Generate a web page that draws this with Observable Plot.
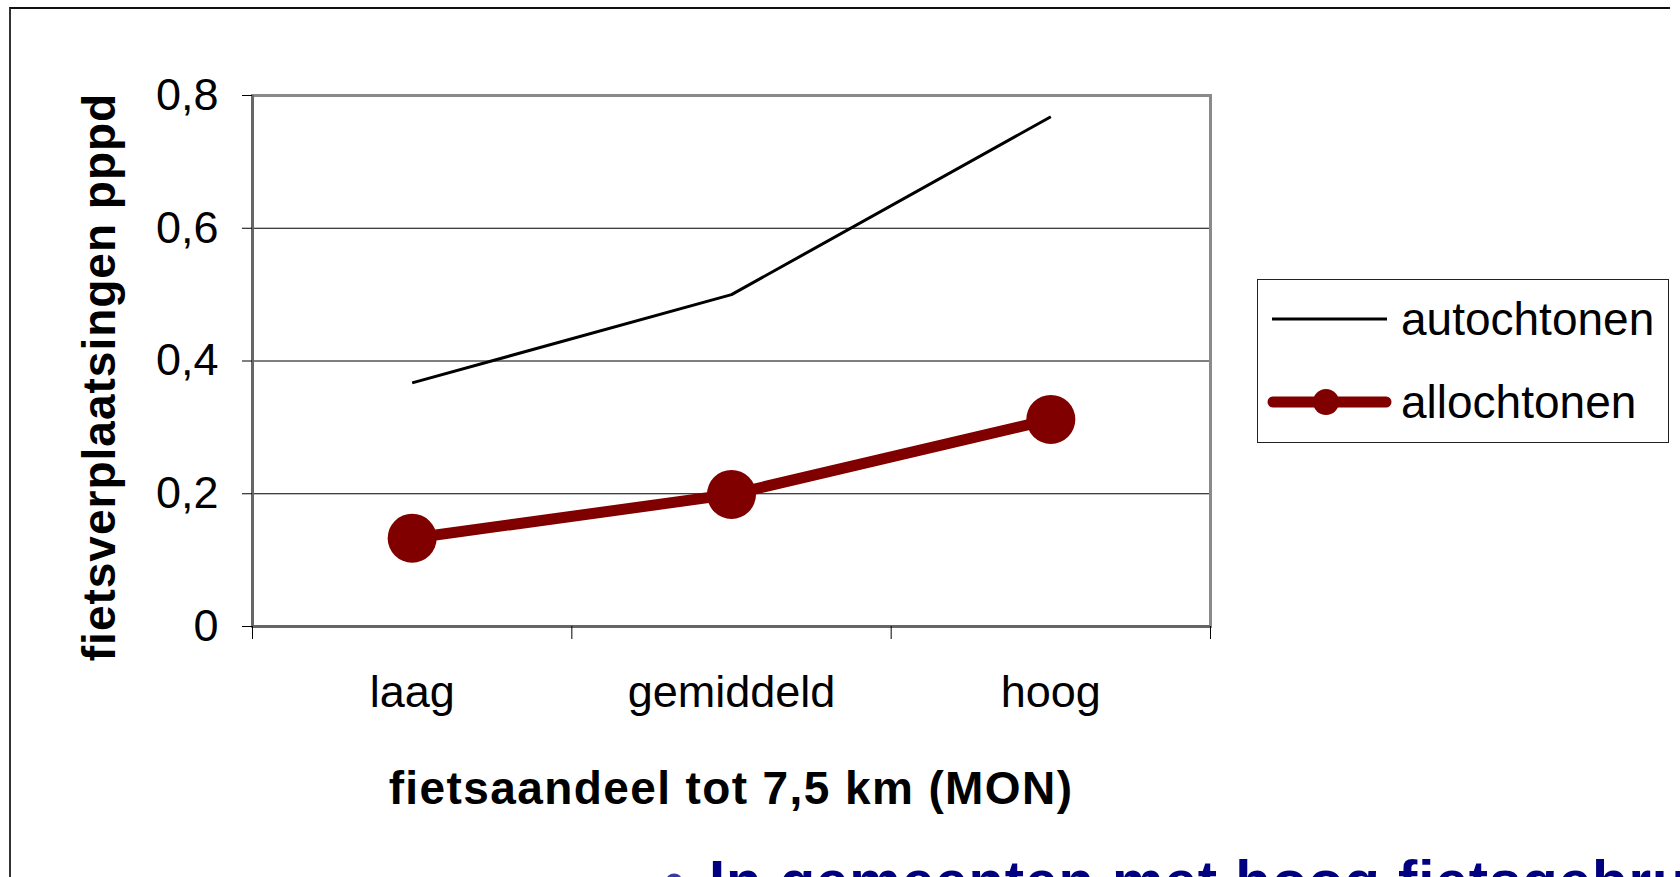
<!DOCTYPE html>
<html>
<head>
<meta charset="utf-8">
<script src="https://cdn.jsdelivr.net/npm/d3@7"></script>
<script src="https://cdn.jsdelivr.net/npm/@observablehq/plot@0.6"></script>
<style>
  html, body { margin: 0; padding: 0; background: #fff; width: 1680px; height: 877px; overflow: hidden;
    font-family: "Liberation Sans", Arial, sans-serif; }
  #wrap { position: relative; width: 1680px; height: 877px; overflow: hidden; }
  #frame { position: absolute; left: 9px; top: 7px; width: 1661px; height: 900px;
    border-top: 2px solid #111; border-left: 2px solid #333; box-sizing: border-box; }
  #chart { position: absolute; left: 0; top: 0; }
  #ytitle { position: absolute; left: 99px; top: 377px; transform: translate(-50%, -50%) rotate(-90deg);
    font-weight: bold; font-size: 46px; letter-spacing: 1px; white-space: nowrap; line-height: 1; color: #000; }
  #xtitle { position: absolute; left: 731px; top: 765px; transform: translateX(-50%);
    font-weight: bold; font-size: 46px; letter-spacing: 1.4px; white-space: nowrap; line-height: 1; color: #000; }
  #bottom { position: absolute; left: 664px; top: 852px; font-weight: bold; font-size: 58px; line-height: 1;
    letter-spacing: 1px; white-space: nowrap; color: #000080; }
  #bottom .bullet { display: inline-block; width: 45px; color: #3a3aa0; letter-spacing: 0; }
  #legend { position: absolute; left: 1257px; top: 279px; }
</style>
</head>
<body>
<div id="wrap">
  <div id="frame"></div>
  <div id="chart"></div>
  <div id="ytitle"></div>
  <div id="xtitle"></div>
  <div id="legend"></div>
  <div id="bottom"><span class="bullet">•</span><span id="bottomText"></span></div>
</div>
<script>
// ---- data ----
const categories = ["laag", "gemiddeld", "hoog"];
const autochtonen = [0.367, 0.5, 0.768];
const allochtonen = [0.133, 0.199, 0.312];
const seriesNames = ["autochtonen", "allochtonen"];
const yTicks = [0, 0.2, 0.4, 0.6, 0.8];
const gridValues = [0.2, 0.4, 0.6];
const yTitle = "fietsverplaatsingen pppd";
const xTitle = "fietsaandeel tot 7,5 km (MON)";
const bottomText = "In gemeenten met hoog fietsgebruik";

const rows = s => categories.map((c, i) => ({cat: c, pos: i + 0.5, value: s[i]}));
const autoRows = rows(autochtonen);
const alloRows = rows(allochtonen);

const fmt = d => d === 0 ? "0" : d3.format(".1f")(d).replace(".", ",");

const plot = Plot.plot({
  width: 1680,
  height: 877,
  marginLeft: 252,
  marginRight: 470,
  marginTop: 95,
  marginBottom: 251,
  x: {domain: [0, categories.length]},
  y: {domain: [0, 0.8]},
  style: {fontFamily: '"Liberation Sans", Arial, sans-serif', fontSize: "45px", color: "#000", background: "transparent", overflow: "visible"},
  marks: [
    Plot.ruleY(gridValues, {stroke: "#000", strokeWidth: 1}),
    Plot.frame({stroke: "#8a8a8a", strokeWidth: 3}),
    Plot.ruleX([0], {stroke: "#666", strokeWidth: 3}),
    Plot.ruleY([0], {stroke: "#666", strokeWidth: 3}),
    Plot.axisY({ticks: yTicks, tickSize: 10, tickPadding: 24, tickFormat: fmt, label: null}),
    Plot.axisX({ticks: d3.range(categories.length + 1), tickSize: 13, tickFormat: () => "", label: null}),
    Plot.axisX({ticks: categories.map((c, i) => i + 0.5), tickSize: 0, tickPadding: 49,
      tickFormat: d => categories[Math.floor(d)], label: null}),
    Plot.line(autoRows, {x: "pos", y: "value", stroke: "#000", strokeWidth: 3, strokeLinecap: "butt"}),
    Plot.line(alloRows, {x: "pos", y: "value", stroke: "#800000", strokeWidth: 11}),
    Plot.dot(alloRows, {x: "pos", y: "value", r: 24.5, fill: "#800000"})
  ]
});
document.getElementById("chart").appendChild(plot);

document.getElementById("ytitle").textContent = yTitle;
document.getElementById("xtitle").textContent = xTitle;
document.getElementById("bottomText").textContent = bottomText;

// ---- legend ----
const lg = d3.select("#legend").append("svg").attr("width", 414).attr("height", 166);
lg.append("rect").attr("x", 0.5).attr("y", 0.5).attr("width", 411).attr("height", 163)
  .attr("fill", "#fff").attr("stroke", "#222").attr("stroke-width", 1);
const styles = [
  {stroke: "#000", width: 3, cap: "butt", x1: 15, x2: 130, dot: false},
  {stroke: "#800000", width: 11, cap: "round", x1: 16, x2: 129, dot: true}
];
const rowY = [40, 123];
seriesNames.forEach((name, i) => {
  const s = styles[i];
  lg.append("line").attr("x1", s.x1).attr("x2", s.x2).attr("y1", rowY[i]).attr("y2", rowY[i])
    .attr("stroke", s.stroke).attr("stroke-width", s.width).attr("stroke-linecap", s.cap);
  if (s.dot) lg.append("circle").attr("cx", 69).attr("cy", rowY[i]).attr("r", 13).attr("fill", s.stroke);
  lg.append("text").attr("x", 144).attr("y", rowY[i] + 16)
    .attr("font-family", '"Liberation Sans", Arial, sans-serif').attr("font-size", 46).attr("fill", "#000")
    .text(name);
});
</script>
</body>
</html>
